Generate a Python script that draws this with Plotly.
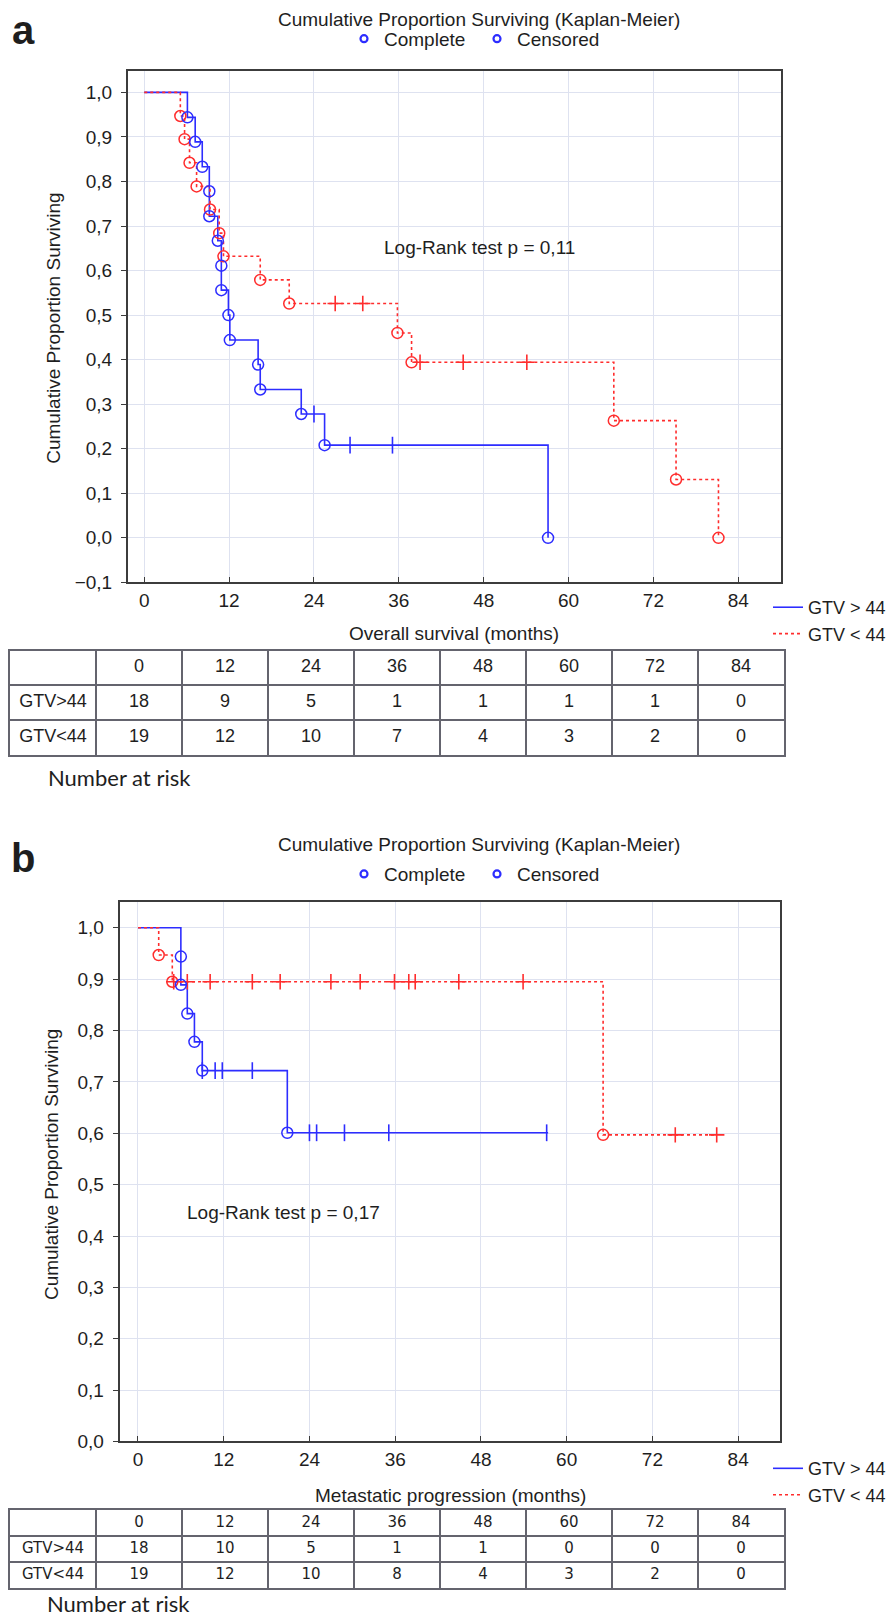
import plotly.graph_objects as go

W, H = 896, 1617
def px(x):
    return x / W
def py(y):
    return 1 - y / H

# ---------------- data: panel a (overall survival) ----------------
a_hi_t = [0, 6.1, 7.2, 8.2, 9.2, 9.2, 10.4, 10.9, 10.9, 11.9, 12.1, 16.1, 16.4, 22.2, 25.5, 57.1]
a_hi_s = [1.0, 0.944, 0.889, 0.833, 0.778, 0.722, 0.667, 0.611, 0.556, 0.5, 0.444, 0.389, 0.333, 0.278, 0.208, 0.0]
a_hi_cens_t = [24.0, 29.1, 35.1]
a_hi_cens_s = [0.278, 0.208, 0.208]
a_hi_end = 57.1

a_lo_t = [0, 5.1, 5.7, 6.4, 7.4, 9.3, 10.6, 11.2, 16.4, 20.5, 35.8, 37.8, 66.4, 75.2, 81.2]
a_lo_s = [1.0, 0.947, 0.895, 0.842, 0.789, 0.737, 0.684, 0.632, 0.579, 0.526, 0.460, 0.394, 0.263, 0.131, 0.0]
a_lo_cens_t = [27.0, 30.9, 39.0, 45.1, 54.1]
a_lo_cens_s = [0.526, 0.526, 0.394, 0.394, 0.394]
a_lo_end = 81.2

# ---------------- data: panel b (metastatic progression) ----------------
b_hi_t = [0, 6.0, 6.0, 6.9, 7.9, 9.0, 20.9]
b_hi_s = [1.0, 0.944, 0.889, 0.833, 0.778, 0.722, 0.601]
b_hi_cens_t = [9.0, 10.8, 11.8, 16.0, 24.0, 25.0, 28.9, 35.1, 57.2]
b_hi_cens_s = [0.722, 0.722, 0.722, 0.722, 0.601, 0.601, 0.601, 0.601, 0.601]
b_hi_end = 57.4

b_lo_t = [0, 2.9, 4.8, 65.1]
b_lo_s = [1.0, 0.947, 0.895, 0.597]
b_lo_cens_t = [5.0, 6.9, 10.1, 16.0, 19.9, 27.0, 31.1, 35.9, 37.9, 38.8, 44.9, 53.9, 75.2, 81.0]
b_lo_cens_s = [0.895] * 12 + [0.597, 0.597]
b_lo_end = 81.0

# ---------------- number at risk tables ----------------
risk_times = [0, 12, 24, 36, 48, 60, 72, 84]
risk_groups = ["GTV>44", "GTV<44"]
a_risk_hi = [18, 9, 5, 1, 1, 1, 1, 0]
a_risk_lo = [19, 12, 10, 7, 4, 3, 2, 0]
b_risk_hi = [18, 10, 5, 1, 1, 0, 0, 0]
b_risk_lo = [19, 12, 10, 8, 4, 3, 2, 0]

BLUE = "rgb(45,45,255)"
RED = "rgb(255,45,45)"
GRID = "rgb(222,226,240)"
FRAME = "rgb(60,60,60)"
TLINE = "rgb(100,100,110)"
TXT = "rgb(30,30,30)"
FONT = "Liberation Sans, Arial, sans-serif"
FS = 19

fig = go.Figure()

def add_panel(xa, ya, hi_t, hi_s, hi_end, hic_t, hic_s, lo_t, lo_s, lo_end, loc_t, loc_s, leg):
    fig.add_trace(go.Scatter(x=hi_t + [hi_end], y=hi_s + [hi_s[-1]], mode="lines",
                             line=dict(color=BLUE, width=1.6, shape="hv"),
                             name="GTV > 44", xaxis=xa, yaxis=ya, legend=leg))
    fig.add_trace(go.Scatter(x=lo_t + [lo_end], y=lo_s + [lo_s[-1]], mode="lines",
                             line=dict(color=RED, width=1.6, shape="hv", dash="3px,3px"),
                             name="GTV < 44", xaxis=xa, yaxis=ya, legend=leg))
    fig.add_trace(go.Scatter(x=lo_t[1:], y=lo_s[1:], mode="markers", showlegend=False,
                             marker=dict(symbol="circle-open", size=11, color=RED, line=dict(width=1.5, color=RED)),
                             xaxis=xa, yaxis=ya))
    fig.add_trace(go.Scatter(x=loc_t, y=loc_s, mode="markers", showlegend=False,
                             marker=dict(symbol="cross-thin-open", size=11, color=RED, line=dict(width=1.6, color=RED)),
                             xaxis=xa, yaxis=ya))
    fig.add_trace(go.Scatter(x=hi_t[1:], y=hi_s[1:], mode="markers", showlegend=False,
                             marker=dict(symbol="circle-open", size=11, color=BLUE, line=dict(width=1.5, color=BLUE)),
                             xaxis=xa, yaxis=ya))
    fig.add_trace(go.Scatter(x=hic_t, y=hic_s, mode="markers", showlegend=False,
                             marker=dict(symbol="line-ns-open", size=12, color=BLUE, line=dict(width=1.6, color=BLUE)),
                             xaxis=xa, yaxis=ya))

def add_key(xa, ya, leg):
    for nm in ["Complete", "Censored"]:
        fig.add_trace(go.Scatter(x=[None], y=[None], mode="markers", name=nm, xaxis=xa, yaxis=ya, legend=leg,
                                 marker=dict(symbol="circle-open", size=7, color=BLUE, line=dict(width=2.2, color=BLUE))))

def add_table(xa, ya, hi, lo, font, fsize):
    # header row (y=2.5), group rows (y=1.5, 0.5); columns centred at i+0.5
    ncol = len(risk_times) + 1
    hx = [i + 1.5 for i in range(len(risk_times))]
    fig.add_trace(go.Scatter(x=hx, y=[2.5] * len(hx), text=[str(t) for t in risk_times], mode="text",
                             textfont=dict(family=font, size=fsize, color=TXT), showlegend=False,
                             hoverinfo="skip", xaxis=xa, yaxis=ya))
    for row_y, label, vals in [(1.5, risk_groups[0], hi), (0.5, risk_groups[1], lo)]:
        fig.add_trace(go.Scatter(x=[0.5] + hx, y=[row_y] * ncol, text=[label] + [str(v) for v in vals],
                                 mode="text", textfont=dict(family=font, size=fsize, color=TXT),
                                 showlegend=False, hoverinfo="skip", xaxis=xa, yaxis=ya))

add_key("x", "y", "legend")
add_panel("x", "y", a_hi_t, a_hi_s, a_hi_end, a_hi_cens_t, a_hi_cens_s,
          a_lo_t, a_lo_s, a_lo_end, a_lo_cens_t, a_lo_cens_s, "legend2")
add_key("x2", "y2", "legend3")
add_panel("x2", "y2", b_hi_t, b_hi_s, b_hi_end, b_hi_cens_t, b_hi_cens_s,
          b_lo_t, b_lo_s, b_lo_end, b_lo_cens_t, b_lo_cens_s, "legend4")
add_table("x5", "y5", a_risk_hi, a_risk_lo, "Liberation Sans Narrow, Liberation Sans, sans-serif", 18)
add_table("x6", "y6", b_risk_hi, b_risk_lo, "DejaVu Sans, sans-serif", 15)

axis_common = dict(showline=True, linecolor=FRAME, linewidth=2, mirror=True,
                   gridcolor=GRID, gridwidth=1, zeroline=False,
                   tickfont=dict(family=FONT, size=FS, color=TXT), tickcolor=FRAME)

ncols = len(risk_times) + 1
tab_x = dict(range=[0, ncols], tickvals=list(range(1, ncols)), showticklabels=False, ticks="",
             showgrid=True, gridcolor=TLINE, gridwidth=1.5, showline=True, linecolor=TLINE, linewidth=1.5,
             mirror=True, zeroline=False, fixedrange=True)
tab_y = dict(range=[0, 3], tickvals=[1, 2], showticklabels=False, ticks="",
             showgrid=True, gridcolor=TLINE, gridwidth=1.5, showline=True, linecolor=TLINE, linewidth=1.5,
             mirror=True, zeroline=False, fixedrange=True)

fig.update_layout(
    width=W, height=H, margin=dict(l=0, r=0, t=0, b=0),
    paper_bgcolor="white", plot_bgcolor="white",
    separators=",.",
    font=dict(family=FONT, size=FS, color=TXT),
    xaxis=dict(domain=[px(120), px(772.7)], range=[-2.3, 90.0], anchor="y", tickvals=risk_times,
               ticks="inside", ticklen=5, ticklabelstandoff=0, **axis_common),
    yaxis=dict(domain=[py(578.3), py(63)], range=[-0.1, 1.049], anchor="x", dtick=0.1, tick0=0,
               tickformat=".1f", ticks="outside", ticklen=5, ticklabelstandoff=5, **axis_common),
    xaxis3=dict(overlaying="x", anchor="y", side="top", range=[-2.3, 90.0], dtick=6, tick0=0,
                ticks="inside", ticklen=5, tickcolor=FRAME, showticklabels=False, showgrid=False,
                showline=False, zeroline=False),
    xaxis2=dict(domain=[px(111.7), px(772.3)], range=[-2.56, 89.9], anchor="y2", tickvals=risk_times,
                ticks="inside", ticklen=5, ticklabelstandoff=0, **axis_common),
    yaxis2=dict(domain=[py(1443.3), py(900)], range=[0, 1.0505], anchor="x2", dtick=0.1, tick0=0,
                tickformat=".1f", ticks="outside", ticklen=5, ticklabelstandoff=5, **axis_common),
    xaxis4=dict(overlaying="x2", anchor="y2", side="top", range=[-2.56, 89.9], dtick=10, tick0=0,
                ticks="inside", ticklen=5, tickcolor=FRAME, showticklabels=False, showgrid=False,
                showline=False, zeroline=False),
    yaxis4=dict(overlaying="y2", anchor="x2", side="right", range=[0, 1.0505], tickvals=[0.21, 0.42, 0.63, 0.84],
                ticks="inside", ticklen=5, tickcolor=FRAME, showticklabels=False, showgrid=False,
                showline=False, zeroline=False),
    xaxis5=dict(domain=[px(2), px(776)], anchor="y5", **tab_x),
    yaxis5=dict(domain=[py(752), py(647)], anchor="x5", **tab_y),
    xaxis6=dict(domain=[px(2), px(776)], anchor="y6", **tab_x),
    yaxis6=dict(domain=[py(1591), py(1512)], anchor="x6", **tab_y),
    legend=dict(orientation="h", x=px(336), y=py(31), xanchor="left", yanchor="middle",
                font=dict(family=FONT, size=FS, color=TXT), bgcolor="rgba(0,0,0,0)",
                entrywidth=88, entrywidthmode="pixels"),
    legend2=dict(x=px(760), y=py(585), xanchor="left", yanchor="top", itemwidth=30,
                 font=dict(family=FONT, size=18, color=TXT), bgcolor="rgba(0,0,0,0)", tracegroupgap=0),
    legend3=dict(orientation="h", x=px(336), y=py(872), xanchor="left", yanchor="middle",
                 font=dict(family=FONT, size=FS, color=TXT), bgcolor="rgba(0,0,0,0)",
                 entrywidth=88, entrywidthmode="pixels"),
    legend4=dict(x=px(760), y=py(1452), xanchor="left", yanchor="top", itemwidth=30,
                 font=dict(family=FONT, size=18, color=TXT), bgcolor="rgba(0,0,0,0)", tracegroupgap=0),
    showlegend=True,
)

ann = []
def A(text, x, y, size=FS, xref="paper", yref="paper", angle=0, bold=False, family=FONT, xanchor="center"):
    ann.append(dict(text=("<b>%s</b>" % text) if bold else text, x=x, y=y, xref=xref, yref=yref,
                    showarrow=False, textangle=angle, xanchor=xanchor, yanchor="middle",
                    font=dict(family=family, size=size, color=TXT)))

title = "Cumulative Proportion Surviving (Kaplan-Meier)"
A(title, px(471), py(12))
A(title, px(471), py(842))
A("a", px(15), py(22), size=40, bold=True)
A("b", px(15), py(856), size=40, bold=True)
A("Cumulative Proportion Surviving", px(46), py(323), angle=-90)
A("Cumulative Proportion Surviving", px(43), py(1165), angle=-90)
A("Overall survival (months)", px(446), py(630))
A("Metastatic progression (months)", px(442), py(1498))
A("Log-Rank test p = 0,11", 47.4, 0.652, xref="x", yref="y")
A("Log-Rank test p = 0,17", 20.3, 0.446, xref="x2", yref="y2")
A("Number at risk", px(38), py(775), size=22, family="Lato, Carlito, sans-serif", xanchor="left")
A("Number at risk", px(37), py(1606), size=22, family="Lato, Carlito, sans-serif", xanchor="left")
fig.update_layout(annotations=ann)

fig.write_html("out.html")
